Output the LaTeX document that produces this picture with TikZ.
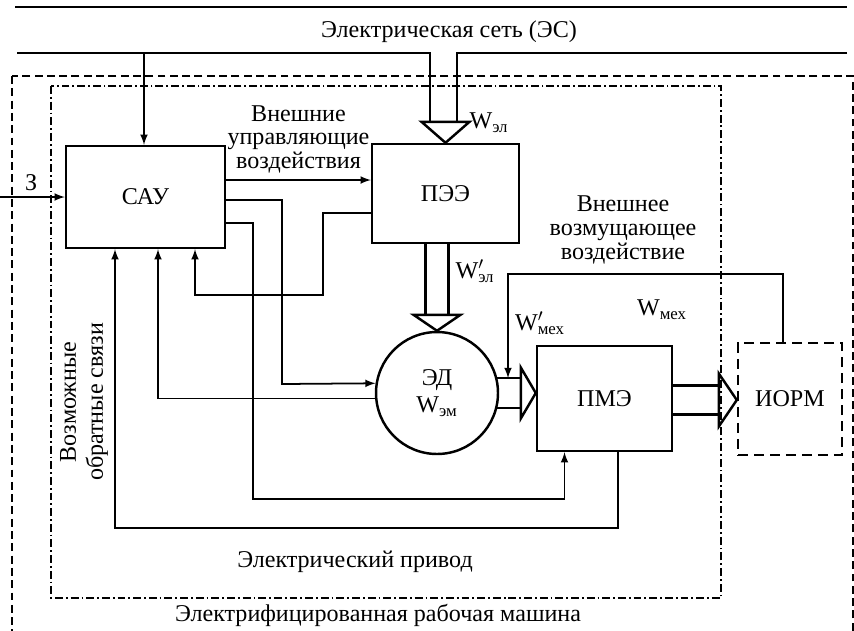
\documentclass[tikz,border=0pt]{standalone}
\usepackage{fontspec}
\setmainfont{Liberation Serif}
\usetikzlibrary{calc}
\newcommand{\Wsub}[1]{W\textsubscript{#1}}
\newcommand{\Wpr}[1]{W\rlap{$'$}\textsubscript{#1}}
\begin{document}
\begin{tikzpicture}[x=0.02cm, y=-0.02cm,
    every node/.style={font=\fontsize{13.7}{13.5}\selectfont},
    blok/.style={draw, line width=1.4pt, inner sep=0pt},
    sig/.style={-latex, line width=1pt},
    pwr/.style={line width=1.4pt, line join=miter}]
    \useasboundingbox (0,0) rectangle (854,630);

    % Cadres
    \draw[line width=0.8pt, dash pattern=on 4.5pt off 2.5pt] (12,76) rectangle (853,640);
    \draw[line width=0.8pt, dash pattern=on 4.5pt off 1.7pt on 1pt off 1.7pt] (51,86) rectangle (721,598);

    % Reseau
    \draw[pwr] (15,7) -- (847,7);
    \node (es) at (449,32) {Электрическая сеть (ЭС)};
    \coordinate (busin) at (443.5,53);
    \coordinate (bustap) at (144,53);
    \draw[pwr] (17,53) -| ($(busin)+(-13.5,70)$);
    \draw[pwr] (847,53) -| ($(busin)+(13.5,70)$);

    % Blocs
    \node[blok, minimum width=3.18cm, minimum height=2.04cm] (sau) at (145.5,197) {САУ};
    \node[blok, minimum width=2.94cm, minimum height=1.98cm] (pee) at (445.5,193.5) {ПЭЭ};
    \node[blok, circle, minimum size=2.44cm, align=center] (ed) at (437,393) {ЭД\\[2pt]\Wsub{эм}};
    \node[blok, minimum width=2.7cm, minimum height=2.1cm] (pme) at (604.5,398.5) {ПМЭ};
    \node[blok, dash pattern=on 5.7pt off 3.4pt, minimum width=2.08cm, minimum height=2.24cm] (iorm) at (790,399) {ИОРМ};

    % Fleches de puissance
    \draw[pwr] ($(pee.north)+(-24,-21)$) -- ($(pee.north)+(24,-21)$) -- (pee.north) -- cycle;
    \node (wel) at (489,123) {\Wsub{эл}};

    \draw[pwr] ($(pee.south -| ed.north)+(-11.5,0)$) -- ($(ed.north)+(-11.5,-16)$);
    \draw[pwr] ($(pee.south -| ed.north)+(11.5,0)$) -- ($(ed.north)+(11.5,-16)$);
    \draw[pwr] ($(ed.north)+(-23.5,-16)$) -- ($(ed.north)+(23.5,-16)$) -- (ed.north) -- cycle;
    \node (welp) at (475,271) {\Wpr{эл}};

    \draw[pwr] (ed.14) -- ($(ed.14 -| pme.west)+(-15,0)$);
    \draw[pwr] (ed.-14) -- ($(ed.-14 -| pme.west)+(-15,0)$);
    \draw[pwr] ($(ed.east -| pme.west)+(-15,-25.5)$) -- ($(ed.east -| pme.west)+(-15,25.5)$) -- (ed.east -| pme.west) -- cycle;
    \node (wmexp) at (540,323) {\Wpr{мех}};

    \draw[pwr] ($(pme.east)+(0,-13)$) -- ($(pme.east -| iorm.west)+(-18,-13)$);
    \draw[pwr] ($(pme.east)+(0,16)$) -- ($(pme.east -| iorm.west)+(-18,16)$);
    \draw[pwr] ($(pme.east -| iorm.west)+(-18,-25)$) -- ($(pme.east -| iorm.west)+(-18,28)$) -- ($(iorm.west)+(0,1)$) -- cycle;
    \node (wmex) at (662,310) {\Wsub{мех}};

    % Liaisons de commande
    \coordinate (zin) at (0,197);
    \draw[sig] (zin) -- (sau.west) node[pos=0.48, above] {З};
    \draw[sig] (bustap) -- (bustap |- sau.north);
    \draw[sig] ($(sau.east)+(0,-17)$) -- ($(sau.east -| pee.west)+(0,-17)$)
        node[midway, above, align=center] {Внешние\\управляющие\\воздействия};
    \draw[sig] ($(sau.east)+(0,3)$) -| (282,384) -- (ed.171.5);
    \draw[sig] ($(sau.east)+(0,26)$) -| (253,499) -| ($(pme.south)+(-40,0)$);

    % Retours
    \draw[sig] ($(pee.west)+(0,19.5)$) -| (323,295) -| ($(sau.south)+(49.5,0)$);
    \draw[sig] (ed.185.6) -| ($(sau.south)+(12.5,0)$);
    \draw[sig] ($(pme.south)+(13.5,0)$) -- ++(0,76) -| ($(sau.south)+(-30.5,0)$);
    \node[rotate=90, align=center, font=\fontsize{13.7}{15.3}\selectfont] (fb) at (84,402) {Возможные\\обратные связи};

    % Perturbation
    \draw[sig] ($(iorm.north)+(-7,0)$) |- (508,274) -- (508,378);
    \node[align=center] (pert) at (623,230) {Внешнее\\возмущающее\\воздействие};

    % Titres
    \node (ep) at (355,562) {Электрический привод};
    \node (erm) at (378,615) {Электрифицированная рабочая машина};
\end{tikzpicture}
\end{document}
